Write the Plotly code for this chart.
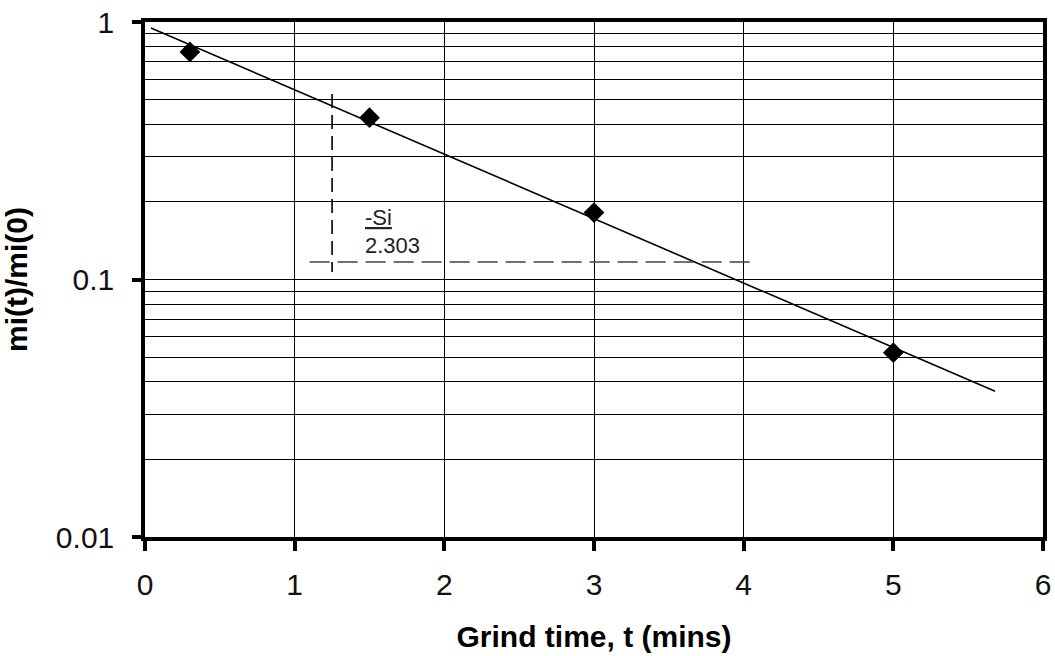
import math
import plotly.graph_objects as go

# data
grind_time = [0.3, 1.5, 3.0, 5.0]
mass_ratio = [0.765, 0.425, 0.182, 0.052]

fit_t = [0.04, 5.68]
fit_y = [0.948, 0.0368]

vdash_t = [1.25, 1.25]
vdash_y = [0.525, 0.107]
hdash_t = [1.10, 4.04]
hdash_y = [0.117, 0.117]

label_t = 1.455
label_top_y = 0.174
label_bottom_y = 0.1355

x_ticks = [0, 1, 2, 3, 4, 5, 6]
y_ticks = [0.01, 0.1, 1]
y_tick_text = ["0.01", "0.1", "1"]

FONT = "Liberation Sans, Arial, Helvetica, sans-serif"

fig = go.Figure()

fig.add_trace(go.Scatter(x=fit_t, y=fit_y, mode="lines",
                         line=dict(color="black", width=1.6), showlegend=False))
fig.add_trace(go.Scatter(x=vdash_t, y=vdash_y, mode="lines",
                         line=dict(color="black", width=1.6, dash="14px,7px"), showlegend=False))
fig.add_trace(go.Scatter(x=hdash_t, y=hdash_y, mode="lines",
                         line=dict(color="#444444", width=1.6, dash="20px,8px"), showlegend=False))
fig.add_trace(go.Scatter(x=grind_time, y=mass_ratio, mode="markers",
                         marker=dict(symbol="diamond", size=16, color="black"),
                         showlegend=False))

fig.add_annotation(x=label_t, y=math.log10(label_top_y), xref="x", yref="y", text="<u>-Si</u>",
                   showarrow=False, xanchor="left", yanchor="middle",
                   font=dict(family=FONT, size=22, color="#222"))
fig.add_annotation(x=label_t, y=math.log10(label_bottom_y), xref="x", yref="y", text="2.303",
                   showarrow=False, xanchor="left", yanchor="middle",
                   font=dict(family=FONT, size=22, color="#222"))

fig.update_layout(
    width=1055, height=656,
    margin=dict(l=145, r=12, t=22, b=119),
    plot_bgcolor="white", paper_bgcolor="white",
    font=dict(family=FONT, color="black"),
)

fig.update_xaxes(
    range=[0, 6], tickvals=x_ticks, ticktext=[str(v) for v in x_ticks],
    showgrid=True, gridcolor="black", gridwidth=1.4,
    showline=True, linecolor="black", linewidth=3.5, mirror=True,
    ticks="outside", ticklen=10, tickwidth=3.5, tickcolor="black",
    ticklabelstandoff=8,
    tickfont=dict(family=FONT, size=30, color="#111"),
    title=dict(text="<b>Grind time, t (mins)</b>", font=dict(family=FONT, size=30, color="black"), standoff=27),
    zeroline=False, automargin=False,
)

fig.update_yaxes(
    type="log", range=[-2, 0], tickvals=y_ticks, ticktext=y_tick_text,
    showgrid=True, gridcolor="black", gridwidth=1.4,
    minor=dict(dtick="D1", showgrid=True, gridcolor="black", gridwidth=1.4, ticks=""),
    showline=True, linecolor="black", linewidth=3.5, mirror=True,
    ticks="outside", ticklen=9, tickwidth=3.5, tickcolor="black",
    ticklabelstandoff=12,
    tickfont=dict(family=FONT, size=30, color="#111"),
    title=dict(text="<b>mi(t)/mi(0)</b>", font=dict(family=FONT, size=30, color="black"), standoff=22),
    zeroline=False, automargin=False,
)

fig.write_html("out.html")
